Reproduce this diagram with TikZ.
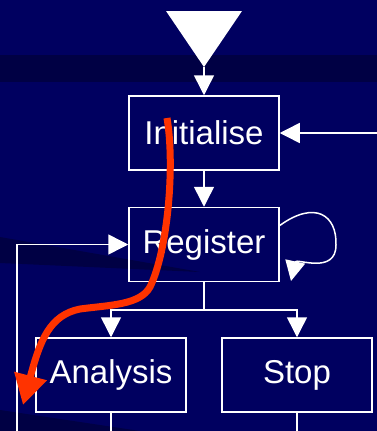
\documentclass[tikz,border=0pt]{standalone}
\usepackage{fontspec}
\setmainfont{Liberation Sans}
\usetikzlibrary{positioning,calc,arrows.meta}
\definecolor{slidebg}{RGB}{0,0,96}
\definecolor{slideband}{RGB}{0,0,68}
\definecolor{trace}{RGB}{255,51,0}
\tikzset{
  block/.style={align=center,rectangle,draw=white,line width=1.5pt,minimum height=74pt,minimum width=150pt,inner sep=0pt,text=white,font=\fontsize{33}{40}\selectfont},
  wire/.style={white,line width=1.5pt},
  >={Triangle[width=20pt,length=20pt]}
}

\begin{document}
\begin{tikzpicture}[x=1pt,y=-1pt]
    \clip (0,0) rectangle (377,431);
    \fill[slidebg] (0,0) rectangle (377,431);
    \fill[slideband] (0,55) rectangle (377,82);
    \fill[slideband] (0,237) -- (200,272) -- (0,263) -- cycle;
    \fill[slideband] (0,410) -- (140,431) -- (0,431) -- cycle;

    \fill[white] (166,11) -- (242,11) -- (204,67) -- cycle;
    \coordinate (apex) at (204,67);

    \node at (204, 133) [block] (init) {Initialise};
    \node at (204, 244.5) [block] (reg) {Register};
    \node at (111, 375) [block] (ana) {Analysis};
    \node at (297, 375) [block] (stop) {Stop};

    \coordinate (fork) at (204,310);
    \coordinate (feed) at (390,133);
    \coordinate (back) at (17,450);

    \draw[wire,->] (apex) -- (init);
    \draw[wire,->] (init) -- (reg);
    \draw[wire,->] (feed) -- (init);
    \draw[wire] (reg) -- (fork);
    \draw[wire,->] (fork) -| (ana);
    \draw[wire,->] (fork) -| (stop);
    \draw[wire,->] (ana) |- (back) |- (reg);
    \draw[wire] (stop.south) -- ++(0,30);
    \draw[wire,->] ($(reg.east)+(0,-19)$) .. controls (315,200) and (337,215) .. (336,245)
        .. controls (336,275) and (296,258) .. (291,281);

    \coordinate (tstart) at (167,118);
    \coordinate (tend) at (23,405);
    \draw[trace, line width=7pt, -{Triangle[width=32pt,length=30pt]}] (tstart)
        .. controls (175,165) and (168,250) .. (150,287)
        .. controls (140,305) and (110,305) .. (80,309)
        .. controls (50,315) and (40,340) .. (tend);
\end{tikzpicture}
\end{document}
